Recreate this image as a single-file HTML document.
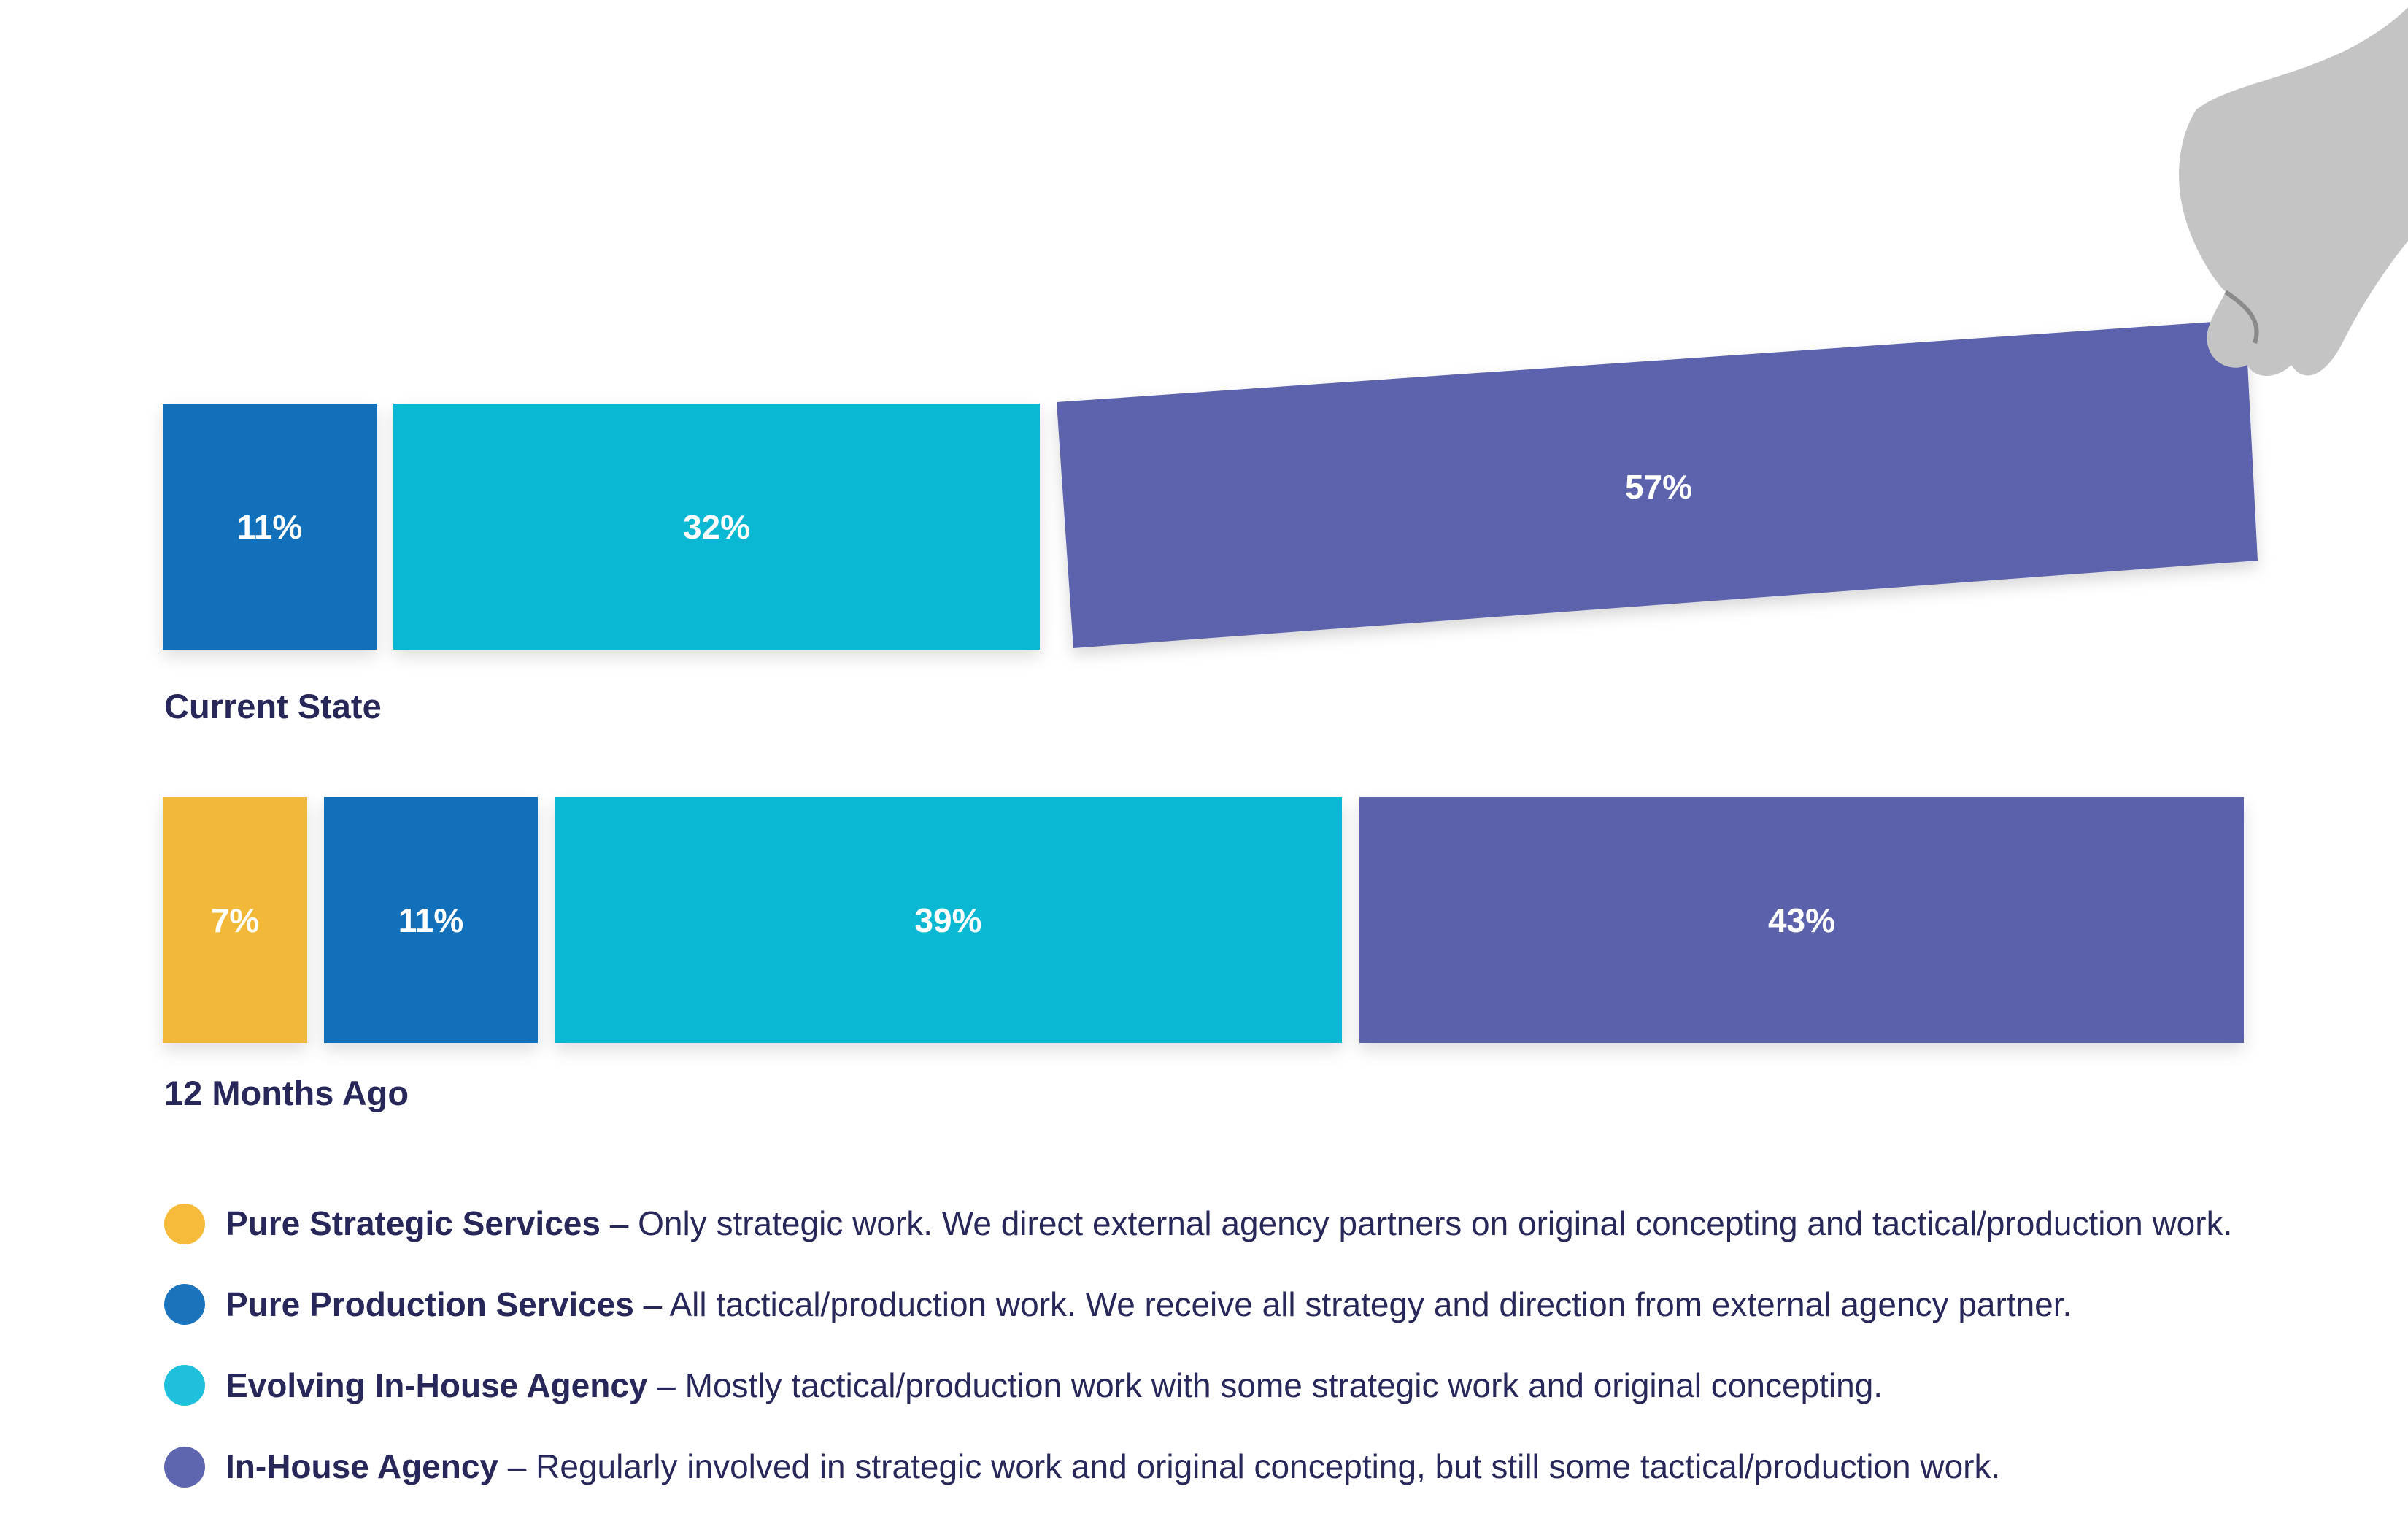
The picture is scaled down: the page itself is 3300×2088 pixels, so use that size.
<!DOCTYPE html>
<html><head><meta charset="utf-8"><style>
html,body{margin:0;padding:0;background:#fff;}
body{width:3300px;height:2088px;position:relative;overflow:hidden;font-family:"Liberation Sans",Arial,sans-serif;}
.b{position:absolute;box-shadow:0 10px 22px rgba(0,0,0,0.13);color:#fff;font-weight:bold;font-size:46px;display:flex;align-items:center;justify-content:center;}
.lab{position:absolute;color:#27275a;font-weight:bold;font-size:47px;}
.lg{position:absolute;left:309px;color:#27275a;font-size:46px;white-space:nowrap;}
.lg b{font-weight:bold;}
.dot{position:absolute;left:225px;width:56px;height:56px;border-radius:50%;}
</style></head><body>
<svg width="3300" height="2088" style="position:absolute;left:0;top:0">
<defs><filter id="s" x="-10%" y="-10%" width="120%" height="130%"><feDropShadow dx="0" dy="10" stdDeviation="10" flood-opacity="0.15"/></filter></defs>
<polygon points="1448,551 3077,438 3094,768 1471,888" fill="#5b62ab" filter="url(#s)"/>
<text x="2273" y="683" fill="#fff" font-family="Liberation Sans" font-weight="bold" font-size="46" text-anchor="middle">57%</text>
<path d="M3010,150 C3050,120 3120,110 3190,80 C3240,60 3280,30 3300,10 L3300,330 C3260,380 3230,430 3210,470 C3190,510 3160,530 3140,500 C3120,520 3090,520 3080,500 C3060,510 3030,500 3025,470 C3020,450 3040,420 3050,400 C3030,380 3000,330 2990,280 C2980,230 2990,180 3010,150 Z" fill="#c4c4c4"/>
<path d="M3050,400 C3080,420 3100,440 3090,470" stroke="#8a8a8a" stroke-width="6" fill="none"/>
</svg>
<div class="b" style="left:223px;top:553px;width:293px;height:337px;background:#1170b9">11%</div>
<div class="b" style="left:539px;top:553px;width:886px;height:337px;background:#0bb8d4">32%</div>
<div class="lab" style="left:225px;top:940px">Current State</div>
<div class="b" style="left:223px;top:1092px;width:198px;height:337px;background:#f2b83a">7%</div>
<div class="b" style="left:444px;top:1092px;width:293px;height:337px;background:#1170b9">11%</div>
<div class="b" style="left:760px;top:1092px;width:1079px;height:337px;background:#0bb8d4">39%</div>
<div class="b" style="left:1863px;top:1092px;width:1212px;height:337px;background:#5b62ab">43%</div>
<div class="lab" style="left:225px;top:1470px">12 Months Ago</div>
<div class="dot" style="top:1649px;background:#f7bb3b"></div>
<div class="lg" style="top:1649px"><b>Pure Strategic Services</b> – Only strategic work. We direct external agency partners on original concepting and tactical/production work.</div>
<div class="dot" style="top:1759px;background:#1a73bb"></div>
<div class="lg" style="top:1760px"><b>Pure Production Services</b> – All tactical/production work. We receive all strategy and direction from external agency partner.</div>
<div class="dot" style="top:1870px;background:#1fc0dc"></div>
<div class="lg" style="top:1871px"><b>Evolving In-House Agency</b> – Mostly tactical/production work with some strategic work and original concepting.</div>
<div class="dot" style="top:1982px;background:#5e66b0"></div>
<div class="lg" style="top:1982px"><b>In-House Agency</b> – Regularly involved in strategic work and original concepting, but still some tactical/production work.</div>
</body></html>
